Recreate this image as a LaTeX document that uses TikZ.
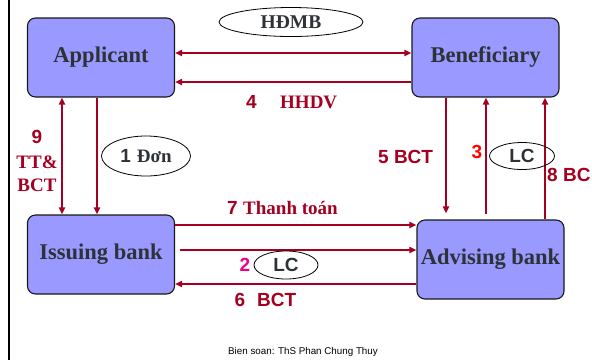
\documentclass[tikz,border=0pt]{standalone}
\usepackage{fontspec}
\setmainfont{Liberation Serif}
\setsansfont{Liberation Sans}
\usetikzlibrary{arrows.meta,shapes.geometric}
\definecolor{crim}{RGB}{165,0,33}
\definecolor{boxfill}{RGB}{153,153,255}
\definecolor{dtext}{RGB}{45,50,55}
\tikzset{
  party/.style={draw=black!90, line width=1.1pt, rounded corners=8pt, fill=boxfill,
    minimum width=147pt, minimum height=79pt, inner sep=0pt,
    text=dtext, font=\fontsize{22.5}{24}\selectfont\bfseries},
  flow/.style={draw=crim, line width=1.7pt, -{Triangle[length=7pt,width=6pt]}},
  flowboth/.style={draw=crim, line width=1.7pt, {Triangle[length=7pt,width=6pt]}-{Triangle[length=7pt,width=6pt]}},
  flowplain/.style={draw=crim, line width=1.7pt},
  oval/.style={ellipse, draw=black, line width=0.8pt, inner sep=0pt, text=dtext},
  redlab/.style={text=crim, inner sep=0pt, font=\fontsize{19}{21}\selectfont\bfseries},
  sanslab/.style={text=crim, inner sep=0pt, font=\fontsize{19}{21}\selectfont\sffamily\bfseries},
}
\begin{document}
\begin{tikzpicture}[x=1pt,y=-1pt]
\useasboundingbox (0,0) rectangle (592,360);
\draw[line width=1.8pt] (9,0) -- (9,360);

\node[party] (app) at (101,57.5) {Applicant};
\node[party] (ben) at (485.5,57.5) {Beneficiary};
\node[party] (iss) at (101,254.5) {Issuing bank};
\node[party] (adv) at (490.5,259.5) {Advising bank};

% top horizontal
\draw[flowboth] (app.east |- 0,53) -- (ben.west |- 0,53);
\draw[flow] (ben.west |- 0,82) -- (app.east |- 0,82);
\node[oval, minimum width=144pt, minimum height=29pt, font=\fontsize{19.5}{21}\selectfont\bfseries] (hdmb) at (291,22) {HĐMB};
\node[sanslab, anchor=west] (l4) at (246,102) {4};
\node[redlab, anchor=west] (l4b) at (280,102) {HHDV};

% left vertical
\draw[flowboth] (app.south -| 62,0) -- (iss.north -| 62,0);
\draw[flow] (app.south -| 97,0) -- (iss.north -| 97,0);
\node[sanslab] (l9) at (37,137) {9};
\node[redlab] (l9b) at (37,162) {TT\&};
\node[redlab] (l9c) at (37,185) {BCT};
\node[oval, minimum width=89pt, minimum height=40pt, font=\fontsize{19}{21}\selectfont\bfseries] (don) at (146,156) {\sffamily 1\hspace{6pt}\rmfamily Đơn};

% right vertical
\draw[flow, shorten >=6pt] (ben.south -| 446,0) -- (adv.north -| 446,0);
\draw[flow, shorten <=5pt] (adv.north -| 486,0) -- (ben.south -| 486,0);
\draw[flow] (adv.north -| 545,0) -- (ben.south -| 545,0);
\node[sanslab, anchor=west] (l5) at (378,157) {5 BCT};
\node[inner sep=0pt, text=red, font=\fontsize{19}{21}\selectfont\sffamily\bfseries] (l3) at (477,152) {3};
\node[oval, minimum width=65pt, minimum height=27pt, font=\fontsize{19}{21}\selectfont\sffamily\bfseries] (lc1) at (522,156) {LC};
\node[sanslab, anchor=west] (l8) at (547,175) {8 BC};

% bottom horizontal
\draw[flow] (iss.east |- 0,225) -- (adv.west |- 0,225);
\draw[flow, shorten <=5pt] (iss.east |- 0,250) -- (adv.west |- 0,250);
\draw[flow] (adv.west |- 0,284) -- (iss.east |- 0,284);
\node[sanslab, anchor=west] (l7) at (227,208) {7};
\node[redlab, anchor=west] (l7b) at (243,208) {Thanh toán};
\node[inner sep=0pt, text=magenta, font=\fontsize{19}{21}\selectfont\sffamily\bfseries] (l2) at (245,265) {2};
\node[oval, minimum width=64pt, minimum height=28pt, font=\fontsize{19}{21}\selectfont\sffamily\bfseries] (lc2) at (286,265) {LC};
\node[sanslab] (l6) at (240,300) {6};
\node[sanslab, anchor=west] (l6b) at (257,300) {BCT};

\node[inner sep=0pt, font=\fontsize{9.8}{11}\selectfont\sffamily] (foot) at (303,352) {Bien soan: ThS Phan Chung Thuy};
\end{tikzpicture}
\end{document}
